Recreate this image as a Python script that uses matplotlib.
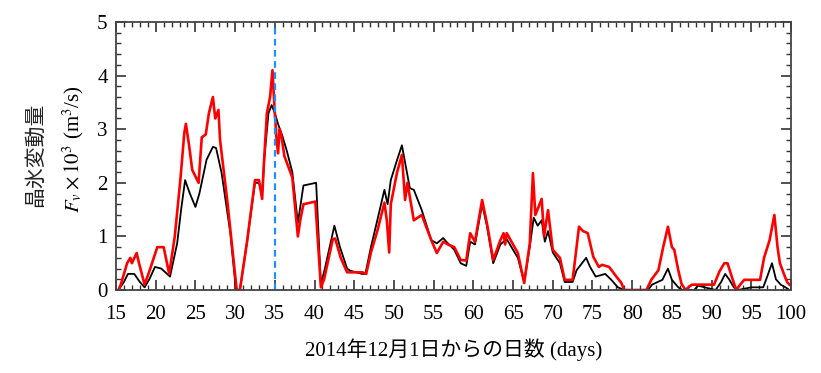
import matplotlib
matplotlib.use('Agg')
import matplotlib.pyplot as plt
from matplotlib.ticker import MultipleLocator

plt.rcParams['font.family'] = ['Liberation Serif', 'Noto Sans CJK JP']
plt.rcParams['mathtext.fontset'] = 'stix'

# red curve (day, value)
red_days = [15.3, 15.6, 16.4, 16.8, 17.0, 17.6, 17.9, 18.6, 19.2, 20.2, 21.0, 21.7, 22.4, 23.1, 23.6,
            23.8, 24.2, 24.6, 25.4, 25.8, 26.3, 26.7, 27.2, 27.5, 27.9, 28.1, 29.0, 29.8, 30.2, 30.6,
            31.5, 32.5, 33.0, 33.4, 33.6, 34.0, 34.4, 34.7, 35.0, 35.2, 35.4, 35.6, 35.8, 36.2, 37.2,
            37.9, 38.2, 38.6, 40.1, 40.8, 41.2, 42.3, 42.6, 43.3, 44.1, 46.0, 46.5, 47.1, 47.9, 48.8,
            49.1, 49.4, 49.6, 50.4, 51.0, 51.4, 51.7, 52.5, 53.5, 54.7, 55.4, 56.2, 56.8, 57.6, 58.4,
            59.1, 59.6, 60.2, 61.1, 61.7, 62.5, 63.4, 63.8, 64.0, 64.2, 65.0, 65.6, 66.4, 67.1, 67.5,
            67.8, 68.6, 68.9, 69.4, 70.0, 70.9, 71.5, 72.5, 73.3, 73.8, 74.4, 75.1, 75.8, 76.2, 77.1,
            78.0, 78.6, 79.0, 81.8, 82.4, 83.3, 83.9, 84.5, 85.0, 85.3, 85.8, 86.2, 86.7, 87.5, 90.3,
            91.0, 91.6, 92.0, 92.6, 93.1, 93.6, 94.1, 96.1, 96.6, 97.3, 97.9, 98.3, 98.6, 99.1, 99.5,
            99.8]
red_vals = [0.0, 0.1, 0.5, 0.6, 0.5, 0.69, 0.5, 0.1, 0.35, 0.8, 0.8, 0.3, 1.0, 2.05, 2.93,
            3.1, 2.7, 2.24, 2.0, 2.85, 2.9, 3.3, 3.6, 3.2, 3.36, 2.8, 1.68, 0.56, 0.0, 0.0,
            0.9, 2.05, 2.05, 1.7, 2.3, 3.3, 3.6, 4.1, 3.3, 2.85, 2.55, 3.0, 2.9, 2.5, 2.1,
            1.0, 1.3, 1.6, 1.65, 0.05, 0.2, 0.95, 0.96, 0.6, 0.33, 0.33, 0.3, 0.7, 1.1, 1.63,
            1.3, 0.7, 1.6, 2.2, 2.52, 1.68, 2.0, 1.3, 1.4, 0.93, 0.69, 0.9, 0.85, 0.8, 0.56,
            0.55, 1.06, 0.9, 1.68, 1.25, 0.56, 0.93, 1.06, 0.85, 1.06, 0.85, 0.69, 0.13, 0.87, 2.18,
            1.4, 1.7, 1.0, 1.49, 0.75, 0.6, 0.19, 0.19, 1.18, 1.1, 1.06, 0.62, 0.43, 0.47, 0.43,
            0.25, 0.14, 0.0, 0.0, 0.19, 0.37, 0.8, 1.18, 0.8, 0.75, 0.37, 0.12, 0.0, 0.1, 0.1,
            0.35, 0.5, 0.5, 0.22, 0.0, 0.1, 0.19, 0.19, 0.6, 0.93, 1.4, 0.8, 0.5, 0.3, 0.15,
            0.1]

# black curve (day, value)
black_days = [15.3, 16.0, 16.5, 17.3, 18.0, 18.6, 19.2, 19.9, 20.7, 21.8, 22.7, 23.2, 23.7, 24.3, 25.0,
              25.5, 26.4, 27.2, 27.6, 28.3, 29.4, 30.1, 30.6, 31.5, 32.5, 33.0, 33.4, 33.7, 34.2, 34.6,
              35.0, 35.4, 36.0, 36.5, 37.2, 37.9, 38.6, 40.2, 40.8, 41.3, 42.5, 43.2, 44.1, 44.5, 46.0,
              46.4, 47.1, 47.9, 48.8, 49.2, 49.6, 50.4, 51.0, 51.5, 52.0, 52.5, 53.5, 54.7, 55.4, 56.2,
              56.6, 57.6, 58.4, 59.1, 59.6, 60.2, 61.1, 61.7, 62.5, 63.4, 64.2, 65.0, 65.6, 66.4, 67.1,
              67.6, 68.1, 68.6, 69.0, 69.4, 70.0, 70.9, 71.5, 72.5, 73.0, 74.2, 74.7, 75.4, 76.6, 77.3,
              78.2, 79.0, 82.0, 82.5, 83.8, 84.5, 85.0, 85.8, 86.3, 87.8, 88.3, 90.5, 91.2, 91.7, 92.2,
              92.8, 93.3, 95.0, 96.5, 97.0, 97.6, 98.1, 98.7, 99.3, 99.8]
black_vals = [0.0, 0.15, 0.3, 0.3, 0.15, 0.05, 0.2, 0.43, 0.4, 0.25, 0.87, 1.5, 2.05, 1.8, 1.55,
              1.8, 2.43, 2.67, 2.65, 2.18, 1.06, 0.0, 0.0, 0.9, 2.0, 2.0, 1.8, 2.5, 3.3, 3.45,
              3.3, 3.1, 2.85, 2.6, 2.2, 1.25, 1.95, 2.0, 0.1, 0.4, 1.2, 0.8, 0.4, 0.36, 0.3,
              0.3, 0.8, 1.3, 1.87, 1.6, 2.05, 2.43, 2.7, 2.3, 1.9, 1.87, 1.49, 0.93, 0.87, 0.97,
              0.9, 0.75, 0.5, 0.45, 0.9, 0.85, 1.6, 1.2, 0.5, 0.85, 0.95, 0.75, 0.6, 0.15, 0.8,
              1.35, 1.2, 1.3, 0.9, 1.1, 0.7, 0.5, 0.15, 0.15, 0.37, 0.6, 0.43, 0.25, 0.3, 0.2,
              0.05, 0.0, 0.0, 0.1, 0.19, 0.4, 0.19, 0.05, 0.0, 0.0, 0.08, 0.0, 0.15, 0.3, 0.2,
              0.05, 0.0, 0.05, 0.05, 0.25, 0.5, 0.2, 0.1, 0.05, 0.0]

assert len(red_days) == len(red_vals)
assert len(black_days) == len(black_vals)

marker_day = 35
x_ticks = list(range(15, 101, 5))

fig = plt.figure(figsize=(8.21, 3.73), dpi=100)
ax = fig.add_axes([0.1413, 0.2225, 0.8222, 0.7185])

ax.plot(black_days, black_vals, color='black', lw=1.3)
ax.plot(red_days, red_vals, color='#ff0000', lw=1.9)
ax.axvline(marker_day, color='#1f8fff', lw=1.6, ls=(0, (3, 2)))

ax.set_xlim(15, 100)
ax.set_ylim(0, 5)
ax.set_xticks(x_ticks)
ax.xaxis.set_minor_locator(MultipleLocator(1))
ax.yaxis.set_major_locator(MultipleLocator(1))
ax.yaxis.set_minor_locator(MultipleLocator(0.2))
ax.tick_params(which='both', direction='in', top=True, right=True, labelsize=15, color='#333333')
ax.tick_params(which='major', length=7, width=1.2)
ax.tick_params(which='minor', length=3.5, width=1.0)
ax.tick_params(axis='x', which='major', pad=11)
ax.tick_params(axis='y', which='major', pad=6)
for s in ax.spines.values():
    s.set_color('#444444')
    s.set_linewidth(1.3)

ax.set_xlabel('2014年12月1日からの日数 (days)', fontsize=15, labelpad=10)
fig.text(0.043, 0.585, '晶氷変動量', rotation=90, ha='center', va='center', fontsize=15,
         family=['Noto Sans CJK JP'], color='#222222')
fig.text(0.089, 0.60, r'$F_v\times10^3$ (m$^3$/s)', rotation=90, ha='center', va='center', fontsize=15)

fig.savefig('out.png', dpi=100)
